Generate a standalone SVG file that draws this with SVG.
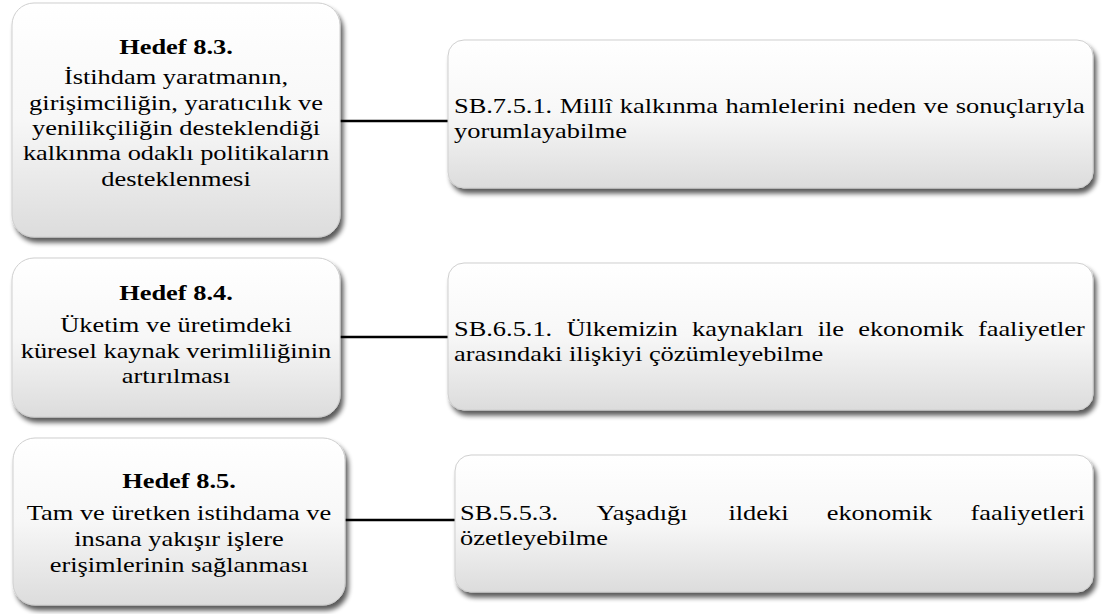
<svg xmlns="http://www.w3.org/2000/svg" width="1103" height="614" viewBox="0 0 1103 614">
<defs>
<linearGradient id="g" x1="0" y1="0" x2="0" y2="1">
<stop offset="0" stop-color="#ffffff"/>
<stop offset="0.5" stop-color="#f7f7f7"/>
<stop offset="1" stop-color="#dcdcdc"/>
</linearGradient>
<filter id="sh" x="-5%" y="-5%" width="115%" height="120%">
<feGaussianBlur in="SourceAlpha" stdDeviation="2.5"/>
<feOffset dx="3" dy="5" result="b"/>
<feComponentTransfer><feFuncA type="linear" slope="0.65"/></feComponentTransfer>
<feMerge><feMergeNode/><feMergeNode in="SourceGraphic"/></feMerge>
</filter>
</defs>
<style>
.box{fill:url(#g);stroke:#cfcfcf;stroke-width:1;filter:url(#sh)}
.t{font-family:"Liberation Serif","Times New Roman",serif;font-size:22px;fill:#000}
.c{text-anchor:middle}
.b{font-weight:bold}
.con{stroke:#000;stroke-width:2.5;fill:none}
</style>
<g id="connectors">
<line class="con" x1="340" y1="121" x2="448" y2="121"/>
<line class="con" x1="340" y1="337" x2="448" y2="337"/>
<line class="con" x1="345" y1="520" x2="455" y2="520"/>
</g>
<g id="hedef83">
<rect class="box" x="12" y="3" width="328" height="234" rx="22"/>
<g transform="translate(176,0) scale(1.2,1)">
<text class="t c b" x="0" y="54">Hedef 8.3.</text>
<text class="t c" x="0" y="84.5">İstihdam yaratmanın,</text>
<text class="t c" x="0" y="110">girişimciliğin, yaratıcılık ve</text>
<text class="t c" x="0" y="135">yenilikçiliğin desteklendiği</text>
<text class="t c" x="0" y="160.5">kalkınma odaklı politikaların</text>
<text class="t c" x="0" y="186">desteklenmesi</text>
</g>
</g>
<g id="sb751">
<rect class="box" x="448" y="40" width="645" height="148" rx="16"/>
<g transform="translate(454,0) scale(1.2,1)">
<text class="t" y="113"><tspan x="0">SB.7.5.1.</tspan><tspan x="88.05">Millî</tspan><tspan x="138.2">kalkınma</tspan><tspan x="226.25">hamlelerini</tspan><tspan x="332.6">neden</tspan><tspan x="391.25">ve</tspan><tspan x="418.2">sonuçlarıyla</tspan></text>
<text class="t" x="0" y="138">yorumlayabilme</text>
</g>
</g>
<g id="hedef84">
<rect class="box" x="12" y="258" width="328" height="159" rx="22"/>
<g transform="translate(176,0) scale(1.2,1)">
<text class="t c b" x="0" y="300">Hedef 8.4.</text>
<text class="t c" x="0" y="332">Üketim ve üretimdeki</text>
<text class="t c" x="0" y="358">küresel kaynak verimliliğinin</text>
<text class="t c" x="0" y="383.5">artırılması</text>
</g>
</g>
<g id="sb651">
<rect class="box" x="448" y="263" width="645" height="147" rx="16"/>
<g transform="translate(454,0) scale(1.2,1)">
<text class="t" y="336"><tspan x="0">SB.6.5.1.</tspan><tspan x="93.68">Ülkemizin</tspan><tspan x="198.36">kaynakları</tspan><tspan x="303.04">ile</tspan><tspan x="336.82">ekonomik</tspan><tspan x="436.6">faaliyetler</tspan></text>
<text class="t" x="0" y="361">arasındaki ilişkiyi çözümleyebilme</text>
</g>
</g>
<g id="hedef85">
<rect class="box" x="13" y="438" width="332" height="167" rx="22"/>
<g transform="translate(179,0) scale(1.2,1)">
<text class="t c b" x="0" y="488">Hedef 8.5.</text>
<text class="t c" x="0" y="520">Tam ve üretken istihdama ve</text>
<text class="t c" x="0" y="546">insana yakışır işlere</text>
<text class="t c" x="0" y="572">erişimlerinin sağlanması</text>
</g>
</g>
<g id="sb553">
<rect class="box" x="455" y="455" width="638" height="137" rx="16"/>
<g transform="translate(460,0) scale(1.2,1)">
<text class="t" y="520"><tspan x="0">SB.5.5.3.</tspan><tspan x="113.7">Yaşadığı</tspan><tspan x="223.7">ildeki</tspan><tspan x="305.6">ekonomik</tspan><tspan x="425.4">faaliyetleri</tspan></text>
<text class="t" x="0" y="545">özetleyebilme</text>
</g>
</g>
</svg>
